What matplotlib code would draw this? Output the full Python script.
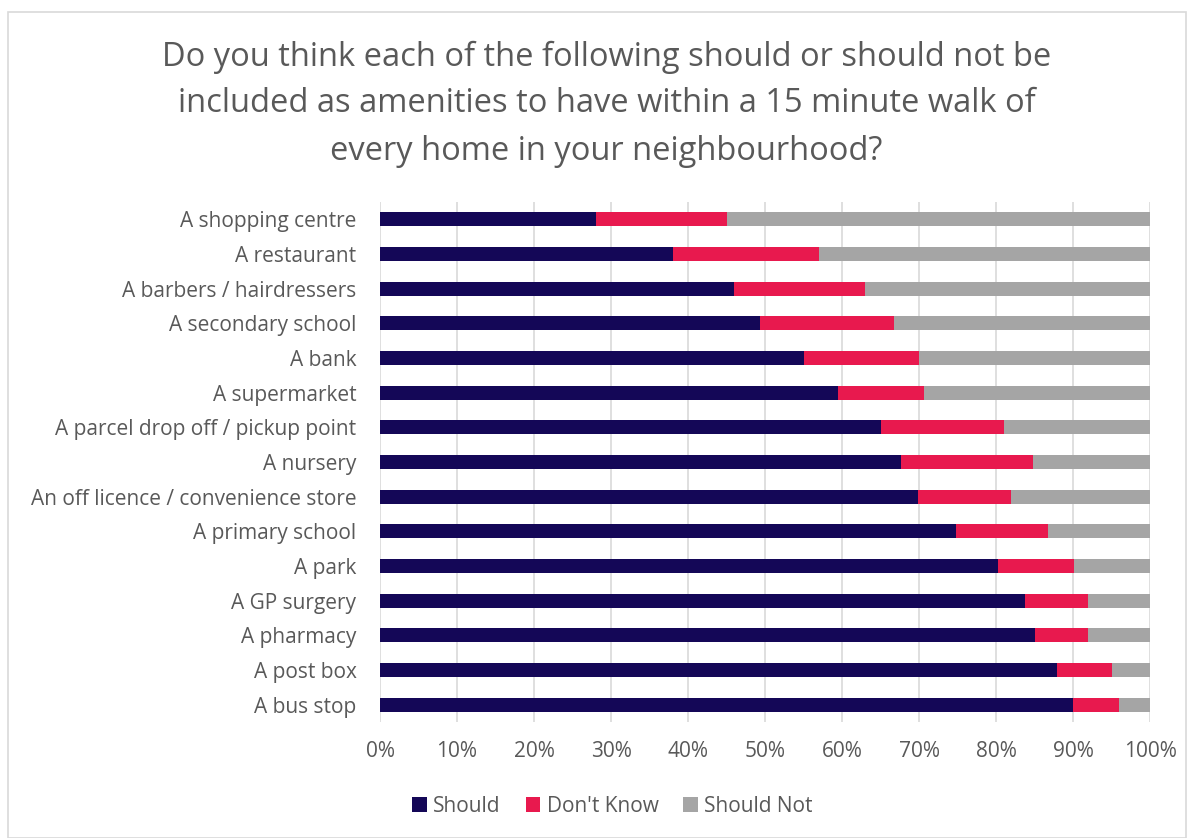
import matplotlib
matplotlib.use("Agg")
import matplotlib.pyplot as plt
from matplotlib.patches import Rectangle
from matplotlib.ticker import PercentFormatter

categories = [
    "A shopping centre", "A restaurant", "A barbers / hairdressers",
    "A secondary school", "A bank", "A supermarket",
    "A parcel drop off / pickup point", "A nursery",
    "An off licence / convenience store", "A primary school", "A park",
    "A GP surgery", "A pharmacy", "A post box", "A bus stop",
]
should = [28, 38, 46, 49.4, 55, 59.5, 65, 67.7, 69.9, 74.8, 80.2, 83.8, 85, 87.9, 90]
dont_know = [17, 19, 17, 17.3, 15, 11.2, 16, 17.1, 12.1, 12, 9.9, 8.1, 7, 7.1, 6]
should_not = [55, 43, 37, 33.3, 30, 29.3, 19, 15.2, 18, 13.2, 9.9, 8.1, 8, 5, 4]
series_names = ["Should", "Don't Know", "Should Not"]
colors = ["#140757", "#E8194E", "#A5A5A5"]

plt.rcParams['font.family'] = ['Open Sans', 'DejaVu Sans']

fig = plt.figure(figsize=(11.94, 8.38), dpi=100)
ax = fig.add_axes([380/1194, 1 - 722/838, 770/1194, (722-202)/838])

y = list(range(len(categories)))
left = [0]*len(categories)
for vals, name, c in zip([should, dont_know, should_not], series_names, colors):
    ax.barh(y, vals, left=left, height=0.4, color=c, label=name, zorder=3)
    left = [l + v for l, v in zip(left, vals)]

ax.set_ylim(len(categories) - 0.5, -0.5)
ax.set_xlim(0, 100)
ax.set_xticks(range(0, 101, 10))
ax.xaxis.set_major_formatter(PercentFormatter(decimals=0))
ax.set_yticks(y)
ax.set_yticklabels(categories)
ax.tick_params(axis='both', length=0, labelsize=15, labelcolor='#595959')
ax.tick_params(axis='x', pad=14)
ax.tick_params(axis='y', pad=17)
ax.grid(axis='x', color='#D9D9D9', linewidth=1.2, zorder=0)
for s in ax.spines.values():
    s.set_visible(False)

title_lines = [
    "Do you think each of the following should or should not be",
    "included as amenities to have within a 15 minute walk of",
    "every home in your neighbourhood?",
]
for line, ypx in zip(title_lines, [57, 104, 152]):
    fig.text(0.508, 1 - ypx/838, line, ha='center', va='center', fontsize=23.5, color='#595959')

leg = fig.legend(loc='center', bbox_to_anchor=(0.513, 1 - 806/838), ncol=3, frameon=False,
                 fontsize=15, handlelength=0.7, handleheight=0.7, columnspacing=1.2,
                 handletextpad=0.3, labelcolor='#595959')

fig.patches.append(Rectangle((8/1194, 0), 1 - 16/1194, 1 - 12/838, transform=fig.transFigure,
                             fill=False, edgecolor='#D9D9D9', linewidth=1.2))

fig.savefig("out.png", dpi=100, facecolor='white')
